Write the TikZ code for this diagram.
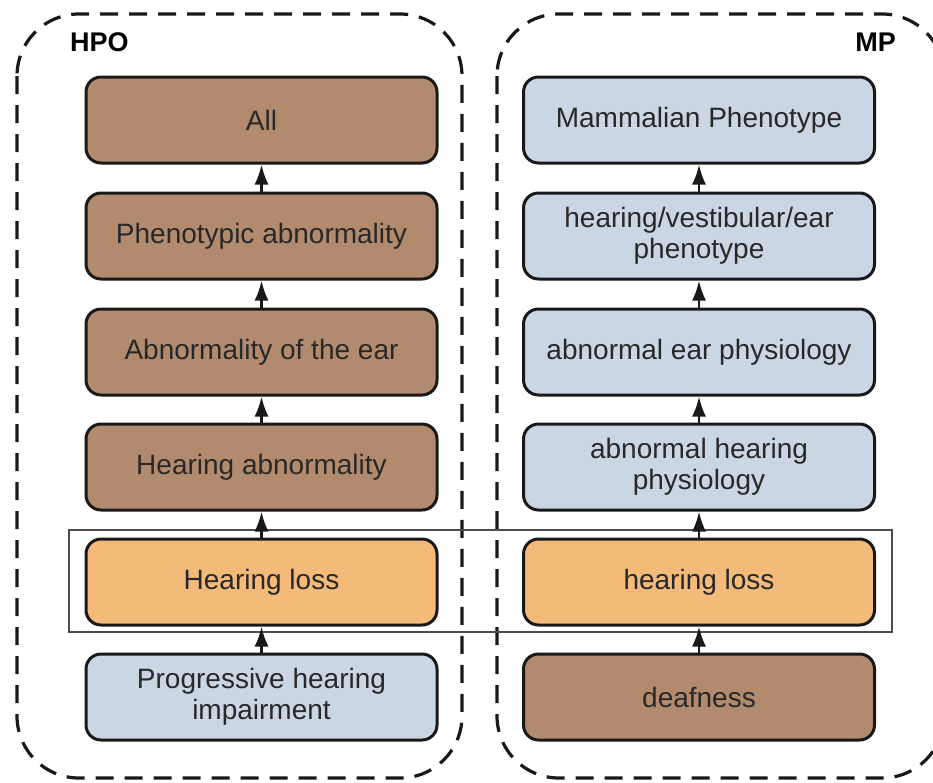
\documentclass[tikz,border=0pt]{standalone}
\usepackage{fontspec}
\setmainfont{Liberation Sans}
\usetikzlibrary{arrows.meta}
\definecolor{brownbox}{RGB}{178,139,111}
\definecolor{orangebox}{RGB}{244,186,122}
\definecolor{bluebox}{RGB}{203,214,229}
\definecolor{txt}{RGB}{40,40,40}
\definecolor{frame}{RGB}{25,25,25}
\tikzset{
  term/.style={draw=frame, line width=3pt, rounded corners=15pt,
    minimum width=351pt, minimum height=86pt, inner sep=0pt,
    text=txt, align=center, font=\fontsize{28}{31}\selectfont},
  isa/.style={-{Latex[length=20pt,width=14pt]}, line width=2.6pt, draw=frame},
  group/.style={draw=frame, line width=3.2pt, dash pattern=on 18pt off 11pt, rounded corners=62pt},
  hl/.style={draw=black!70, line width=1.4pt},
  grouplabel/.style={font=\fontsize{27}{30}\selectfont\bfseries, text=black, inner sep=0pt}
}
\begin{document}
\begin{tikzpicture}[x=1pt,y=-1pt]
\useasboundingbox (0,0) rectangle (933,782);
\clip (0,0) rectangle (933,782);
% group containers
\draw[group] (17,14) rectangle (462,778);
\draw[group] (497,14) rectangle (944,778);
\node[grouplabel, anchor=west] (hpo) at (70,42) {HPO};
\node[grouplabel, anchor=east] (mp) at (896,42) {MP};
% HPO terms
\node[term, fill=brownbox] (l1) at (261.5,120) {All};
\node[term, fill=brownbox] (l2) at (261.5,236) {Phenotypic abnormality};
\node[term, fill=brownbox] (l3) at (261.5,352) {Abnormality of the ear};
\node[term, fill=brownbox] (l4) at (261.5,467) {Hearing abnormality};
\node[term, fill=orangebox] (l5) at (261.5,582) {Hearing loss};
\node[term, fill=bluebox] (l6) at (261.5,697) {Progressive hearing\\impairment};
% MP terms
\node[term, fill=bluebox] (r1) at (699,120) {Mammalian Phenotype};
\node[term, fill=bluebox] (r2) at (699,236) {hearing/vestibular/ear\\phenotype};
\node[term, fill=bluebox] (r3) at (699,352) {abnormal ear physiology};
\node[term, fill=bluebox] (r4) at (699,467) {abnormal hearing\\physiology};
\node[term, fill=orangebox] (r5) at (699,582) {hearing loss};
\node[term, fill=brownbox] (r6) at (699,697) {deafness};
% highlight of mapped terms
\draw[hl] (69,530) rectangle (892,632);
% is-a arrows
\foreach \a/\b in {l2/l1,l3/l2,l4/l3,l5/l4,l6/l5,r2/r1,r3/r2,r4/r3,r5/r4,r6/r5}
  \draw[isa] (\a.north) -- (\b.south);
\end{tikzpicture}
\end{document}
